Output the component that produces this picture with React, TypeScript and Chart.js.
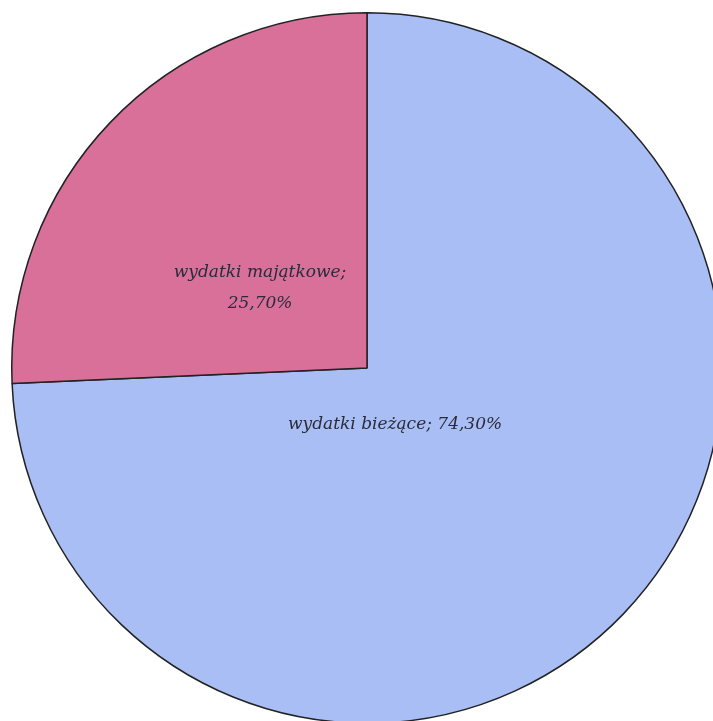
import React, { useEffect, useRef } from "react";
import { Chart, registerables } from "chart.js";

Chart.register(...registerables);

const categories = ["wydatki bieżące", "wydatki majątkowe"];
const values = [74.3, 25.7];
const valueLabels = ["74,30%", "25,70%"];

const colors = ["#A8BEF5", "#D8709A"];

const labelPlugin = {
  id: "sliceLabels",
  afterDraw(chart: any) {
    const meta = chart.getDatasetMeta(0);
    const arc0 = meta.data[0];
    if (!arc0) return;
    const cx = arc0.x;
    const cy = arc0.y;
    const r = arc0.outerRadius;
    const ctx = chart.ctx;
    ctx.save();
    ctx.fillStyle = "#2b2b38";
    ctx.textAlign = "center";
    ctx.textBaseline = "middle";
    ctx.font = "italic 17px 'DejaVu Serif'";
    const t1 = categories[0] + "; " + valueLabels[0];
    ctx.fillText(t1, cx + r * 0.079, cy + r * 0.158);
    ctx.fillText(categories[1] + ";", cx - r * 0.301, cy - r * 0.27);
    ctx.fillText(valueLabels[1], cx - r * 0.301, cy - r * 0.18);
    ctx.restore();
  },
};

export default function App() {
  const ref = useRef<HTMLCanvasElement | null>(null);
  useEffect(() => {
    if (!ref.current) return;
    const chart = new Chart(ref.current, {
      type: "pie",
      data: {
        labels: categories,
        datasets: [
          {
            data: values,
            backgroundColor: colors,
            borderColor: "#222222",
            borderWidth: 1.5,
          },
        ],
      },
      options: {
        responsive: false,
        animation: false,
        layout: { padding: 4 },
        plugins: {
          legend: { display: false },
          tooltip: { enabled: false },
        },
      },
      plugins: [labelPlugin],
    });
    return () => chart.destroy();
  }, []);
  return (
    <div
      style={{
        position: "fixed",
        left: 0,
        top: 0,
        width: 713,
        height: 721,
        overflow: "hidden",
        background: "#ffffff",
      }}
    >
      <canvas
        ref={ref}
        width={720}
        height={720}
        style={{ position: "absolute", left: 7, top: 8, width: 720, height: 720 }}
      />
    </div>
  );
}
